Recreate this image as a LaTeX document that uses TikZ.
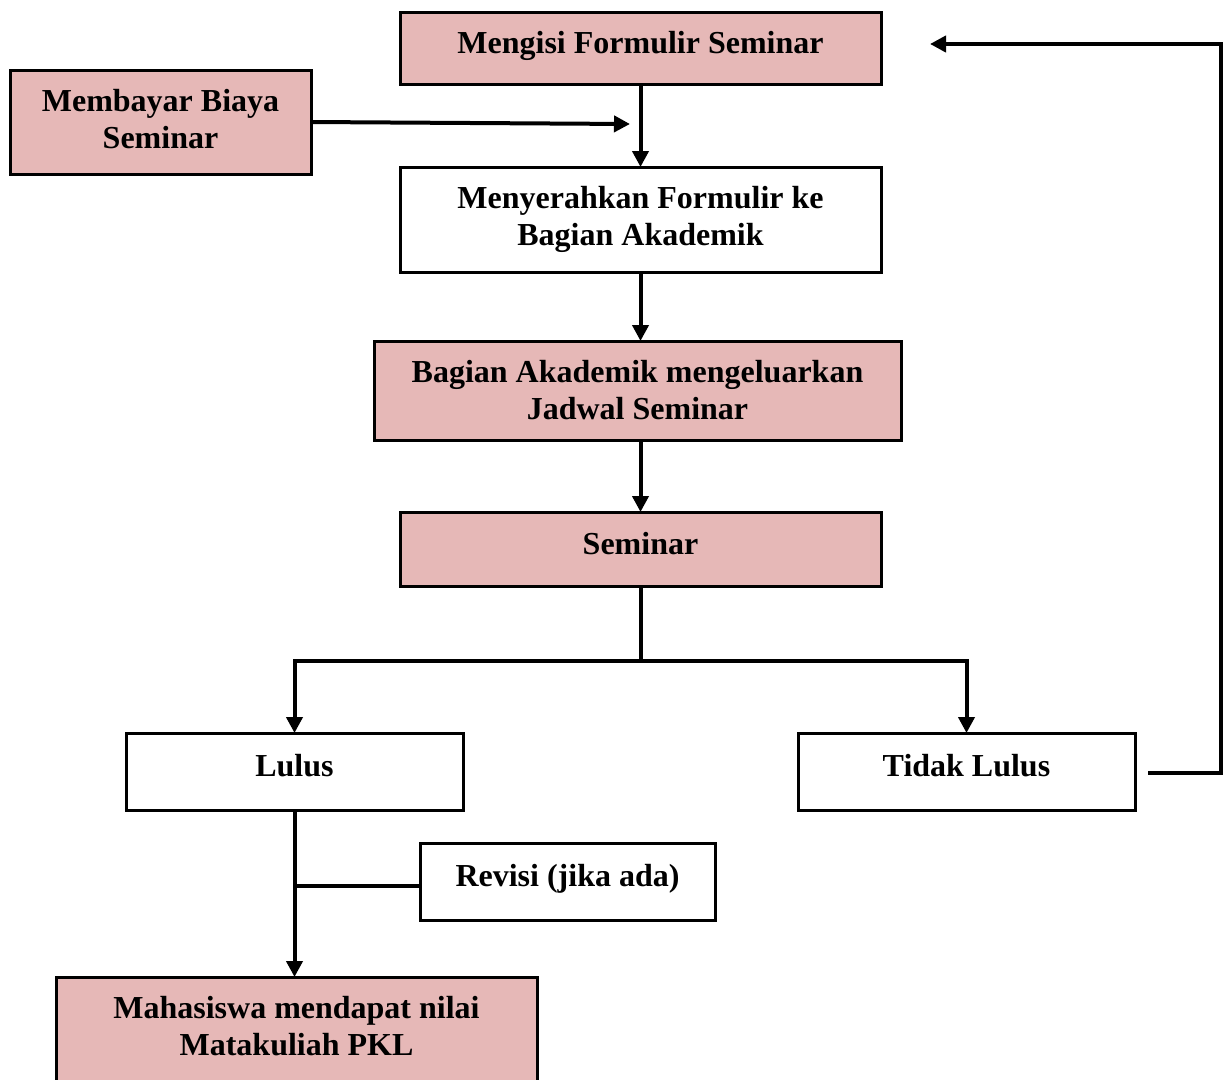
\documentclass[tikz,border=0pt]{standalone}
\usepackage{fontspec}
\setmainfont{Liberation Serif}
\usetikzlibrary{arrows.meta}
\definecolor{boxpink}{HTML}{E6B8B7}

\begin{document}
\begin{tikzpicture}[x=1pt,y=-1pt,
        box/.style={draw,line width=3pt,inner sep=0pt,outer sep=0pt,align=center,font=\fontsize{32}{37}\selectfont\bfseries},
        pinkbox/.style={box,fill=boxpink},
        oneline/.style={text height=22pt,text depth=12pt},
        conn/.style={line width=4pt},
        arr/.style={conn,-{Triangle[length=16pt,width=16pt]}}]
                \useasboundingbox (0,0) rectangle (1226,1079);

                \node[pinkbox,oneline,minimum width=481pt,minimum height=72pt] (mengisi) at (640.5,48) {Mengisi Formulir Seminar};
                \node[pinkbox,text depth=6pt,minimum width=301pt,minimum height=104pt] (membayar) at (160.5,122) {Membayar Biaya\\Seminar};
                \node[box,minimum width=481pt,minimum height=105pt] (menyerahkan) at (640.5,219.5) {Menyerahkan Formulir ke\\Bagian Akademik};
                \node[pinkbox,minimum width=527pt,minimum height=99pt] (jadwal) at (637.5,390.5) {Bagian Akademik mengeluarkan\\Jadwal Seminar};
                \node[pinkbox,oneline,minimum width=481pt,minimum height=74pt] (seminar) at (640.5,549) {Seminar};
                \node[box,oneline,minimum width=337pt,minimum height=77pt] (lulus) at (294.5,771.5) {Lulus};
                \node[box,oneline,minimum width=337pt,minimum height=77pt] (tidak) at (966.5,771.5) {Tidak Lulus};
                \node[box,oneline,minimum width=295pt,minimum height=77pt] (revisi) at (567.5,881.5) {Revisi (jika ada)};
                \node[pinkbox,text depth=36pt,minimum width=481pt,minimum height=133pt] (mahasiswa) at (296.5,1043.5) {Mahasiswa mendapat nilai\\Matakuliah PKL};

                \coordinate (bayar) at (630,124);
                \coordinate (ulang) at (930,44);

                \draw[arr] (mengisi.south) -- (menyerahkan.north);
                \draw[arr] (membayar.east) -- (bayar);
                \draw[arr] (menyerahkan.south) -- (menyerahkan.south |- jadwal.north);
                \draw[arr] (jadwal.south -| seminar.north) -- (seminar.north);
                \draw[conn] (seminar.south) -- ++(0,75) coordinate (split);
                \draw[arr] (split) -| (lulus.north);
                \draw[arr] (split) -| (tidak.north);
                \draw[arr] (lulus.south) -- (lulus.south |- mahasiswa.north);
                \draw[conn] ([yshift=-4.5pt]revisi.west) -- ([yshift=-4.5pt]revisi.west -| lulus.south);
                \draw[arr] ([xshift=13pt,yshift=-1.5pt]tidak.east) -- ++(73,0) |- (ulang);
            \end{tikzpicture}
\end{document}
